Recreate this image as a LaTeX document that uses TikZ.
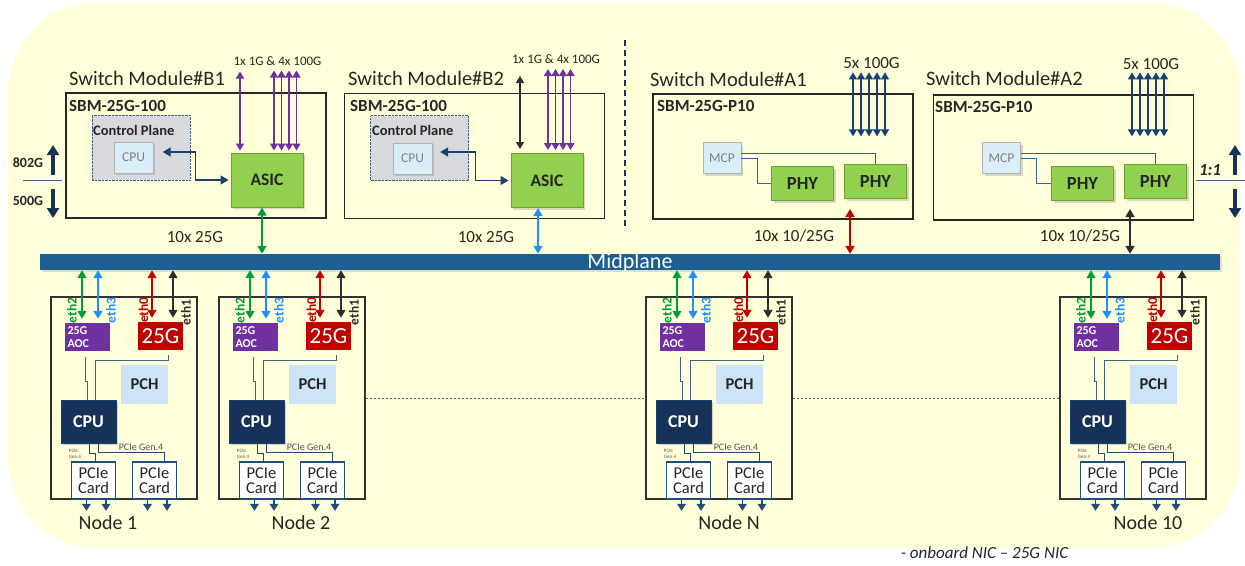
\documentclass[tikz,border=0pt]{standalone}
\usepackage{fontspec}
\setmainfont{Carlito}
\usetikzlibrary{shapes,arrows,arrows.meta,positioning,shadows}

\definecolor{bgyellow}{RGB}{255,255,218}
\definecolor{midblue}{RGB}{29,95,145}
\definecolor{navy}{RGB}{22,50,88}
\definecolor{linkblue}{RGB}{24,64,112}
\definecolor{asicgreen}{RGB}{146,208,80}
\definecolor{asicedge}{RGB}{108,162,50}
\definecolor{chipblue}{RGB}{218,238,250}
\definecolor{cpgray}{RGB}{216,217,221}
\definecolor{aocpurple}{RGB}{112,48,160}
\definecolor{nicred}{RGB}{192,0,0}
\definecolor{ethgreen}{RGB}{0,155,60}
\definecolor{ethblue}{RGB}{30,144,255}
\definecolor{ethblack}{RGB}{45,45,45}
\definecolor{pchblue}{RGB}{205,228,248}
\definecolor{cardblue}{RGB}{31,78,121}
\definecolor{wireblue}{RGB}{60,100,140}
\definecolor{textdark}{RGB}{38,38,38}

\newcommand{\setfs}[2]{\fontsize{#1}{#2}\selectfont}

\begin{document}
\begin{tikzpicture}[x=1pt, y=-1pt, >={Triangle[length=8pt,width=9pt]}]
  \tikzstyle{module} = [rectangle, draw=black!85, line width=1.3pt,
    minimum width=260pt, minimum height=125pt, inner sep=0pt]
  \tikzstyle{modtitle} = [anchor=west, inner sep=0pt, text=textdark,
    font=\setfs{20.5}{24}]
  \tikzstyle{partno} = [anchor=west, inner sep=0pt, text=textdark,
    font=\bfseries\setfs{17}{20}]
  \tikzstyle{ctrl} = [rectangle, draw=navy!80, densely dotted, fill=cpgray,
    minimum width=98pt, minimum height=65pt, inner sep=0pt]
  \tikzstyle{ctrllabel} = [anchor=west, inner sep=0pt, text=textdark,
    font=\bfseries\setfs{14.5}{16}]
  \tikzstyle{chip} = [rectangle, draw=gray!60, fill=chipblue, text=gray,
    font=\setfs{13.5}{16}, minimum width=39pt, minimum height=31pt,
    inner sep=0pt, drop shadow={opacity=0.3}]
  \tikzstyle{asic} = [rectangle, draw=asicedge, line width=1pt, fill=asicgreen,
    text=textdark, font=\bfseries\setfs{17.5}{20}, minimum width=72pt,
    minimum height=54pt, inner sep=0pt, drop shadow={opacity=0.3}]
  \tikzstyle{phy} = [asic, font=\bfseries\setfs{18.5}{20}, minimum width=62pt,
    minimum height=34pt]
  \tikzstyle{speed} = [inner sep=0pt, text=textdark, font=\setfs{17}{20}]
  \tikzstyle{uplink} = [inner sep=0pt, text=textdark, font=\setfs{13}{15}]
  \tikzstyle{link} = [draw, <->, line width=1.5pt]
  \tikzstyle{bundle} = [draw, {Triangle[length=7pt,width=8pt]}-{Triangle[length=7pt,width=8pt]},
    line width=1.3pt]
  \tikzstyle{wire} = [draw, line width=0.9pt, wireblue]
  \tikzstyle{ratio} = [draw=navy, line width=4pt, -{Triangle[length=10pt,width=12pt]}]
  \tikzstyle{ratiolabel} = [inner sep=0pt, text=textdark,
    font=\bfseries\setfs{14}{16}]
  % compute node parts
  \tikzstyle{blade} = [rectangle, draw=black!80, line width=1.3pt,
    minimum width=146pt, minimum height=202pt, inner sep=0pt]
  \tikzstyle{aoc} = [rectangle, fill=aocpurple, text=white,
    font=\bfseries\setfs{12}{13}, align=left, text width=40pt,
    minimum height=28pt, inner xsep=2.5pt, inner ysep=0pt]
  \tikzstyle{nic} = [rectangle, fill=nicred, text=white, font=\setfs{23}{25},
    minimum width=45pt, minimum height=28pt, inner sep=0pt]
  \tikzstyle{pch} = [rectangle, fill=pchblue, text=textdark,
    font=\bfseries\setfs{16.5}{18}, minimum width=47pt, minimum height=39pt,
    inner sep=0pt]
  \tikzstyle{cpu} = [rectangle, draw=linkblue, line width=1pt, fill=navy,
    text=white, font=\bfseries\setfs{18}{20}, minimum width=55pt,
    minimum height=43pt, inner sep=0pt, drop shadow={opacity=0.35}]
  \tikzstyle{card} = [rectangle, draw=cardblue, line width=1.8pt, fill=white,
    text=textdark, font=\setfs{16.5}{14.5}, align=center, minimum width=44pt,
    minimum height=37pt, inner sep=0pt]
  \tikzstyle{ethlabel} = [rotate=90, inner sep=0pt, font=\bfseries\setfs{13.5}{15}]
  \tikzstyle{genlabel} = [inner sep=0pt, text=textdark!80, font=\setfs{10}{12}]
  \tikzstyle{tinylabel} = [inner sep=0pt, text=textdark!80, font=\setfs{5}{6},
    align=left]
  \tikzstyle{nodelabel} = [inner sep=0pt, text=textdark, font=\setfs{20}{24}]
  \tikzstyle{portout} = [draw=cardblue, line width=1.6pt,
    -{Triangle[length=7pt,width=8.5pt]}]

  \useasboundingbox (0,0) rectangle (1245,565);
  \fill[bgyellow, rounded corners=90pt] (8,2) rectangle (1240,548);

  % Midplane
  \node[rectangle, fill=midblue, minimum width=1180pt, minimum height=16pt,
    inner sep=0pt, drop shadow={opacity=0.25}] (midplane) at (630,262) {};
  \node[anchor=base, inner sep=0pt, text=white, font=\setfs{22}{24}]
    (midlabel) at (630,268.5) {Midplane};

  % Switch modules B1 and B2
  \node[module] (b1) at (196,155.5) {};
  \node[modtitle] (b1title) at (69,78) {Switch Module\#B1};
  \node[partno] (b1part) at (69,106) {SBM-25G-100};
  \node[ctrl] (b1ctrl) at (141,147.5) {};
  \node[ctrllabel] (b1ctrllabel) at (93,130) {Control Plane};
  \node[chip] (b1cpu) at (133.5,157.5) {CPU};
  \node[asic] (b1asic) at (267,180) {ASIC};
  \node[uplink] (b1up) at (277.5,61) {1x 1G \& 4x 100G};
  \node[speed] (b1speed) at (195,237) {10x 25G};

  \node[module] (b2) at (474.5,156) {};
  \node[modtitle] (b2title) at (348,78) {Switch Module\#B2};
  \node[partno] (b2part) at (350,106.3) {SBM-25G-100};
  \node[ctrl] (b2ctrl) at (419.5,148) {};
  \node[ctrllabel] (b2ctrllabel) at (372,130.5) {Control Plane};
  \node[chip] (b2cpu) at (412.5,158.5) {CPU};
  \node[asic] (b2asic) at (547,180.5) {ASIC};
  \node[uplink] (b2up) at (556,59.5) {1x 1G \& 4x 100G};
  \node[speed] (b2speed) at (486,237) {10x 25G};

  % Switch modules A1 and A2
  \node[module] (a1) at (783,156.5) {};
  \node[modtitle] (a1title) at (650,79) {Switch Module\#A1};
  \node[partno] (a1part) at (657,106) {SBM-25G-P10};
  \node[chip, minimum width=38pt] (a1mcp) at (722,158) {MCP};
  \node[phy] (a1phya) at (802.5,183.5) {PHY};
  \node[phy] (a1phyb) at (875.5,181.5) {PHY};
  \node[speed] (a1up) at (871.5,63.5) {5x 100G};
  \node[speed] (a1speed) at (794,236) {10x 10/25G};

  \node[module] (a2) at (1063.5,157.5) {};
  \node[modtitle] (a2title) at (926,78.4) {Switch Module\#A2};
  \node[partno] (a2part) at (935,107) {SBM-25G-P10};
  \node[chip, minimum width=38pt] (a2mcp) at (1001.5,158) {MCP};
  \node[phy] (a2phya) at (1082.5,183.5) {PHY};
  \node[phy] (a2phyb) at (1155.5,181.5) {PHY};
  \node[speed] (a2up) at (1151,64.5) {5x 100G};
  \node[speed] (a2speed) at (1080,236) {10x 10/25G};

  \draw[navy, line width=1.3pt, dash pattern=on 6pt off 4pt] (625,40) -- (625,230);

  % Switch links
  \draw[link, linkblue, line width=1.3pt, shorten >=2pt]
    ([xshift=9.5pt,yshift=5.5pt]b1cpu.east) -- ++(33,0) |- (b1asic.west);
  \draw[bundle, aocpurple] ([xshift=-27pt,yshift=2pt]b1asic.north) -- ++(0,-79);
  \foreach \dx in {7,14.5,22,29.5}
    \draw[bundle, aocpurple] ([xshift=\dx pt,yshift=2pt]b1asic.north) -- ++(0,-80);
  \draw[link, ethgreen] ([xshift=-5pt]b1asic.south)
    -- ([xshift=-5pt]b1asic.south |- midplane.north);

  \draw[link, linkblue, line width=1.3pt, shorten >=2pt]
    ([xshift=8pt,yshift=6.5pt]b2cpu.east) -- ++(35,0) |- (b2asic.west);
  \draw[bundle, ethblack] ([xshift=-27pt,yshift=4pt]b2asic.north) -- ++(0,-73);
  \foreach \dx in {1,8.5,16,23.5}
    \draw[bundle, aocpurple] ([xshift=\dx pt,yshift=3pt]b2asic.north) -- ++(0,-81);
  \draw[link, ethblue] ([xshift=-9pt]b2asic.south)
    -- ([xshift=-9pt]b2asic.south |- midplane.north);

  \draw[wire] ([yshift=5pt]a1mcp.east) -| (a1phyb.north);
  \draw[wire] (a1mcp.east) -- ++(16,0) |- (a1phya.west);
  \foreach \dx in {70,78,86,94,102}
    \draw[bundle, linkblue] ([xshift=\dx pt,yshift=-43pt]a1.north) -- ++(0,-64);
  \draw[link, nicred] ([xshift=-25.5pt,yshift=-10pt]a1phyb.south)
    -- ([xshift=-25.5pt]a1phyb.south |- midplane.north);

  \draw[wire] ([yshift=5pt]a2mcp.east) -| (a2phyb.north);
  \draw[wire] (a2mcp.east) -- ++(16,0) |- (a2phya.west);
  \foreach \dx in {68.5,76.5,84.5,92.5,100.5}
    \draw[bundle, linkblue] ([xshift=\dx pt,yshift=-42pt]a2.north) -- ++(0,-64);
  \draw[link, ethblack] ([xshift=-25.5pt,yshift=-10pt]a2phyb.south)
    -- ([xshift=-25.5pt]a2phyb.south |- midplane.north);

  % Bandwidth ratio marks
  \node[ratiolabel] (upbw) at (28,163) {802G};
  \node[ratiolabel] (downbw) at (28,201) {500G};
  \draw[ratio] (53,175) -- (53,145);
  \draw[ratio] (53,189) -- (53,218);
  \draw[wireblue, line width=1pt] (23,180) -- (62,180);
  \node[ratiolabel, font=\bfseries\itshape\setfs{17}{20}] (oneone) at (1210,170) {1:1};
  \draw[ratio] (1235,175) -- (1235,145);
  \draw[ratio] (1235,189) -- (1235,218);
  \draw[wireblue, line width=1pt] (1196,180) -- (1245,180);

  % Compute nodes
  \foreach \n/\nx/\nname/\lx in {1/51/Node 1/57, 2/219/Node 2/82,
      N/646/Node N/83, 10/1060/Node 10/88} {
    \node[blade] (n\n) at (\nx+73,398) {};
    \node[aoc] (n\n-aoc) at (\nx+36.5,337) {25G\\AOC};
    \node[nic] (n\n-nic) at (\nx+109.5,336) {25G};
    \node[pch] (n\n-pch) at (\nx+93.5,384.5) {PCH};
    \node[cpu] (n\n-cpu) at (\nx+37.5,421.5) {CPU};
    \node[card] (n\n-card1) at (\nx+42.5,480.5) {PCIe\\Card};
    \node[card] (n\n-card2) at (\nx+103.5,480.5) {PCIe\\Card};
    \node[genlabel] (n\n-gen) at (\nx+90,447) {PCIe Gen.4};
    \node[tinylabel] (n\n-gen1) at (\nx+24,454) {PCIe\\Gen.4};
    \node[nodelabel] (n\n-label) at (\nx+\lx,523) {\nname};
    % ports up to the midplane
    \draw[link, ethgreen, shorten >=4pt] (\nx+31,0 |- midplane.south)
      -- (\nx+31,0 |- n\n-aoc.north);
    \draw[link, ethblue, shorten >=4pt] (\nx+47,0 |- midplane.south)
      -- (\nx+47,0 |- n\n-aoc.north);
    \draw[link, nicred, shorten >=4pt] (\nx+101,0 |- midplane.south)
      -- (\nx+101,0 |- n\n-nic.north);
    \draw[link, ethblack, shorten >=4pt] (\nx+122,0 |- midplane.south)
      -- (\nx+122,0 |- n\n-nic.north);
    \node[ethlabel, text=ethgreen] (n\n-eth2) at (\nx+21,310.5) {eth2};
    \node[ethlabel, text=ethblue] (n\n-eth3) at (\nx+60,310.5) {eth3};
    \node[ethlabel, text=nicred] (n\n-eth0) at (\nx+92.5,310) {eth0};
    \node[ethlabel, text=ethblack] (n\n-eth1) at (\nx+135,312.5) {eth1};
    % board wiring
    \draw[wire] ([xshift=-2.5pt,yshift=-6pt]n\n-aoc.south) -- ++(0,24)
      -- ++(2,0) -- (\nx+36,0 |- n\n-cpu.north);
    \draw[wire] ([xshift=7.5pt,yshift=-5pt]n\n-nic.south) -- ++(0,5)
      -| (\nx+44,0 |- n\n-cpu.north);
    \draw[wire, cardblue] ([xshift=0.5pt]n\n-cpu.south) -- ++(0,9.5)
      -| ([xshift=1.5pt]n\n-card1.north);
    \draw[wire, cardblue] ([xshift=9.5pt]n\n-cpu.south) -- ++(0,8.5)
      -| ([xshift=9.5pt]n\n-card2.north);
    \foreach \dx in {-7,12.5} {
      \draw[portout] ([xshift=\dx pt]n\n-card1.south) -- ++(0,11);
      \draw[portout] ([xshift=\dx pt]n\n-card2.south) -- ++(0,11);
    }
  }
  \draw[wireblue, line width=0.9pt, dash pattern=on 2pt off 2pt] (n2.east) -- (nN.west);
  \draw[wireblue, line width=0.9pt, dash pattern=on 2pt off 2pt] (nN.east) -- (n10.west);

  \node[inner sep=0pt, text=textdark, font=\itshape\setfs{17}{20}] (footnote)
    at (984.5,553) {- onboard NIC – 25G NIC};
\end{tikzpicture}
\end{document}
